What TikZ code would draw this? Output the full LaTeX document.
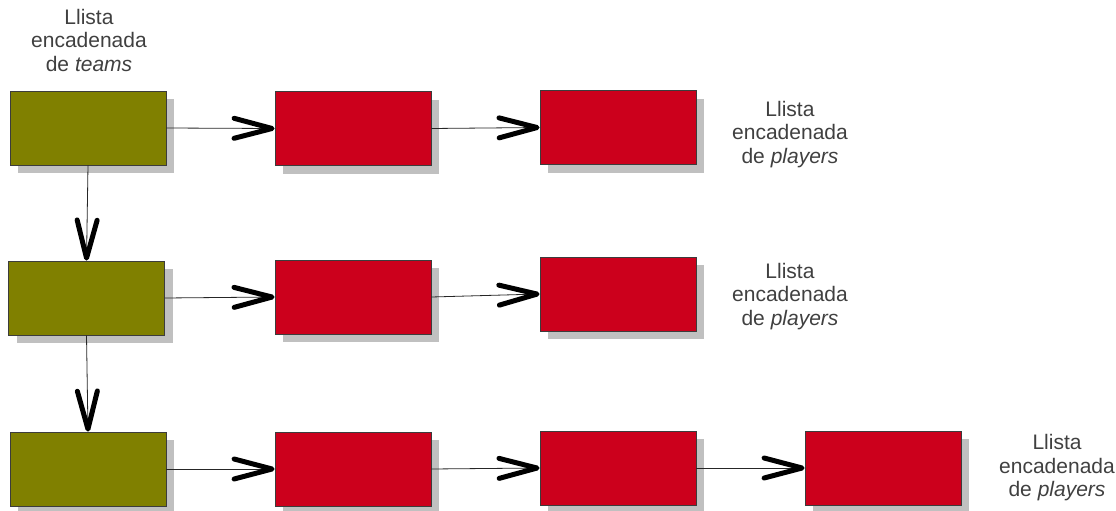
\documentclass[tikz,border=0pt]{standalone}
\usepackage{fontspec}
\setmainfont{Liberation Sans}
\usetikzlibrary{arrows.meta,shadows}
\definecolor{teamfill}{RGB}{128,128,0}
\definecolor{playerfill}{RGB}{204,0,28}
\definecolor{boxedge}{RGB}{60,60,60}
\definecolor{shadowgray}{RGB}{192,192,192}
\definecolor{labelgray}{RGB}{64,64,64}
\begin{document}
\begin{tikzpicture}[x=1pt,y=-1pt,
  listbox/.style={draw=boxedge,line width=0.8pt,minimum width=156pt,minimum height=74pt,
    inner sep=0pt,
    drop shadow={shadow xshift=8pt,shadow yshift=-8pt,fill=shadowgray,opacity=1}},
  teambox/.style={listbox,fill=teamfill},
  playerbox/.style={listbox,fill=playerfill},
  link/.style={draw=black!85,line width=0.8pt,
    -{Straight Barb[length=38pt,width=20pt,line width=5pt,round,color=black]}},
  caption/.style={align=center,font=\fontsize{21}{23.5}\selectfont,text=labelgray,inner sep=0pt}]
\useasboundingbox (0,0) rectangle (1116,511);

% team list (left column)
\node[teambox] (t1) at (88,128) {};
\node[teambox] (t2) at (86.5,298) {};
\node[teambox] (t3) at (88,469) {};

% player lists
\node[playerbox] (p11) at (353,128.5) {};
\node[playerbox] (p12) at (618,127.5) {};
\node[playerbox] (p21) at (353,297) {};
\node[playerbox] (p22) at (618,294) {};
\node[playerbox] (p31) at (353,469) {};
\node[playerbox] (p32) at (618,468) {};
\node[playerbox] (p33) at (883,468) {};

% captions
\node[caption] (cteams) at (89,40) {Llista\\encadenada\\de \textit{teams}};
\node[caption] (cpl1) at (790,134.5) {Llista\\encadenada\\de \textit{players}};
\node[caption] (cpl2) at (790,296.5) {Llista\\encadenada\\de \textit{players}};
\node[caption] (cpl3) at (1057,468) {Llista\\encadenada\\de \textit{players}};

% links
\draw[link] (t1.south) -- (t2.north);
\draw[link] (t2.south) -- (t3.north);
\draw[link] (t1.east) -- (p11.west);
\draw[link] (p11.east) -- (p12.west);
\draw[link] (t2.east) -- (p21.west);
\draw[link] (p21.east) -- (p22.west);
\draw[link] (t3.east) -- (p31.west);
\draw[link] (p31.east) -- (p32.west);
\draw[link] (p32.east) -- (p33.west);
\end{tikzpicture}
\end{document}
